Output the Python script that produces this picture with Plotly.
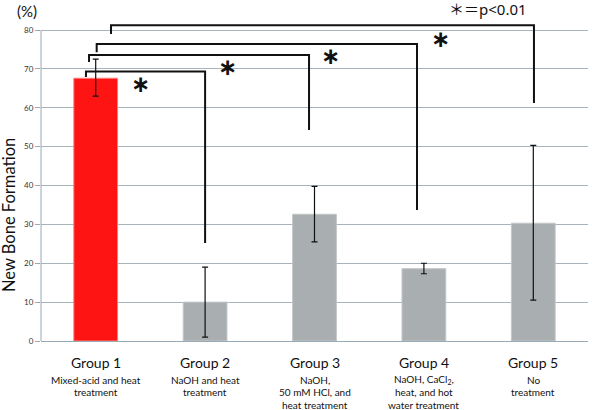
import plotly.graph_objects as go

# ---- data ----
groups = ["Group 1", "Group 2", "Group 3", "Group 4", "Group 5"]
descriptions = [
    ["Mixed-acid and heat", "treatment"],
    ["NaOH and heat", "treatment"],
    ["NaOH,", "50 mM HCl, and", "heat treatment"],
    ["NaOH, CaCl<sub>2</sub>,", "heat, and hot", "water treatment"],
    ["No", "treatment"],
]
values = [67.6, 10.0, 32.6, 18.6, 30.3]
err_upper = [72.5, 19.0, 39.8, 20.0, 50.3]
err_lower = [63.0, 1.0, 25.5, 17.3, 10.5]
y_ticks = [0, 10, 20, 30, 40, 50, 60, 70, 80]

# significance brackets (data units)
br_left_x = [-0.089, -0.061, 0.009, 0.14]
br_right_x = [1.0, 1.95, 2.937, 4.006]
br_top = [69.3, 73.6, 76.4, 81.2]
br_left_bottom = [67.9, 71.8, 74.3, 79.0]
br_right_bottom = [25.2, 54.3, 33.7, 61.2]
star_x = [0.414, 1.209, 2.15, 3.156]
star_y = [66.1, 70.6, 73.4, 77.7]

x = list(range(len(groups)))
colors = ["#FF1414"] + ["#A9AEB1"] * 4
line_colors = ["#FF8080"] + ["#C2C6C8"] * 4

fig = go.Figure()
fig.add_trace(go.Bar(
    x=x, y=values, width=0.4,
    marker=dict(color=colors, line=dict(color=line_colors, width=1)),
    error_y=dict(type="data", symmetric=False,
                 array=[u - v for u, v in zip(err_upper, values)],
                 arrayminus=[v - l for v, l in zip(values, err_lower)],
                 color="#111111", thickness=1.2, width=3),
    hoverinfo="skip",
))

shapes = []
# left axis line from 0 to 80
shapes.append(dict(type="line", xref="paper", yref="y", x0=0, x1=0, y0=0, y1=80,
                   line=dict(color="#9AAAB4", width=1)))
for lx, rx, t, lb, rb in zip(br_left_x, br_right_x, br_top, br_left_bottom, br_right_bottom):
    shapes.append(dict(type="path", xref="x", yref="y",
                       path=f"M {lx} {lb} L {lx} {t} L {rx} {t} L {rx} {rb}",
                       line=dict(color="#111111", width=2)))

annotations = []
for sx, sy in zip(star_x, star_y):
    annotations.append(dict(x=sx, y=sy, xref="x", yref="y", text="<b>∗</b>",
                            showarrow=False, font=dict(size=23, color="#111111",
                                                       family="DejaVu Sans")))

FONT = "Lato, Noto Sans, sans-serif"
PW, PH, PL, PB = 547, 338, 41, 341
# group labels
for i, (g, desc) in enumerate(zip(groups, descriptions)):
    annotations.append(dict(x=i, y=-(362 - PB) / PH, xref="x", yref="paper",
                            text=g, showarrow=False, yanchor="middle",
                            font=dict(size=14, color="#111111", family=FONT)))
    for j, line in enumerate(desc):
        annotations.append(dict(x=i, y=-(379.5 + 12.8 * j - PB) / PH, xref="x", yref="paper",
                                text=line, showarrow=False, yanchor="middle",
                                font=dict(size=10, color="#111111", family=FONT)))

annotations.append(dict(x=(9 - PL) / PW, y=(PB - 215) / PH, xref="paper", yref="paper",
                        xanchor="center", yanchor="middle", text="New Bone Formation",
                        textangle=-90, showarrow=False,
                        font=dict(size=16.5, color="#111111", family=FONT)))
annotations.append(dict(x=0, y=(PB - 11) / PH, xref="paper", yref="paper", xshift=27 - PL,
                        xanchor="center", yanchor="middle", text="(%)", showarrow=False,
                        font=dict(size=15, color="#111111", family=FONT)))
annotations.append(dict(x=(488 - PL) / PW, y=(PB - 9) / PH, xref="paper", yref="paper",
                        xanchor="center", yanchor="middle", text="＊＝p<0.01", showarrow=False,
                        font=dict(size=15, color="#111111", family="Noto Sans, Noto Sans CJK JP")))

fig.update_layout(
    width=592, height=410,
    margin=dict(l=41, r=4, t=3, b=69),
    plot_bgcolor="white", paper_bgcolor="white",
    showlegend=False,
    xaxis=dict(range=[-0.5, 4.5], showticklabels=False, showgrid=False, zeroline=False,
               showline=True, linecolor="#9AAAB4", linewidth=1, ticks=""),
    yaxis=dict(range=[0, 86.95], tickvals=y_ticks, ticktext=[str(t) for t in y_ticks],
               showgrid=True, gridcolor="#A7B4BC", gridwidth=1, zeroline=False,
               showline=False, ticks="outside", ticklen=5, tickcolor="#9AAAB4",
               tickfont=dict(size=8, color="#333333", family=FONT)),
    shapes=shapes,
    annotations=annotations,
)

fig.write_html("out.html", config={"displayModeBar": False},
               post_script="document.body.style.margin='0px';")
